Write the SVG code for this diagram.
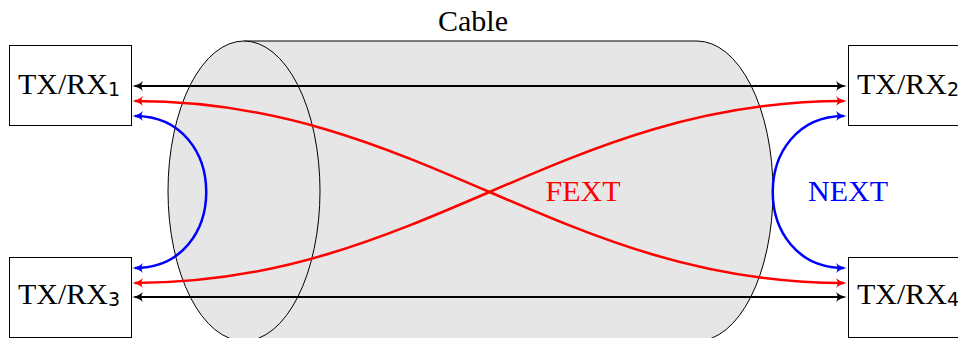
<svg xmlns="http://www.w3.org/2000/svg" width="958" height="338" viewBox="0 0 958 338">
<defs>
<style>
.box{fill:#fff;stroke:#000;stroke-width:1}
.lbl{font-family:"Liberation Serif","DejaVu Serif",serif;font-size:30px}
.sub{font-family:"DejaVu Sans","Liberation Sans",sans-serif;font-size:19px}
.cyl{fill:#e6e6e6;stroke:#000;stroke-width:1}
.blk{fill:none;stroke:#000;stroke-width:2.2}
.red{fill:none;stroke:#f00;stroke-width:2.5}
.blu{fill:none;stroke:#00f;stroke-width:2.5}
</style>
<marker id="ak" markerUnits="userSpaceOnUse" markerWidth="14" markerHeight="12" viewBox="0 -6 12 12" refX="8" refY="0" orient="auto-start-reverse"><path d="M0,-5 Q4,-1 11,0 Q4,1 0,5 Q3,0 0,-5Z" fill="#000"/></marker>
<marker id="ar" markerUnits="userSpaceOnUse" markerWidth="14" markerHeight="12" viewBox="0 -6 12 12" refX="8" refY="0" orient="auto-start-reverse"><path d="M0,-5 Q4,-1 11,0 Q4,1 0,5 Q3,0 0,-5Z" fill="#f00"/></marker>
<marker id="ab" markerUnits="userSpaceOnUse" markerWidth="14" markerHeight="12" viewBox="0 -6 12 12" refX="8" refY="0" orient="auto-start-reverse"><path d="M0,-5 Q4,-1 11,0 Q4,1 0,5 Q3,0 0,-5Z" fill="#00f"/></marker>
</defs>
<rect width="958" height="338" fill="#fff"/>
<g id="cable">
<path class="cyl" d="M244,41 L697,41 A76,150 0 0 1 697,341 L244,341 Z"/>
<ellipse class="cyl" cx="244" cy="191" rx="76" ry="150"/>
<text class="lbl" x="473" y="31" text-anchor="middle">Cable</text>
</g>
<g id="trx1"><rect class="box" x="9.5" y="45.5" width="122" height="80"/><text class="lbl" x="18" y="94">TX/RX<tspan class="sub" dy="2">1</tspan></text></g>
<g id="trx2"><rect class="box" x="848.5" y="45.5" width="122" height="80"/><text class="lbl" x="857" y="94">TX/RX<tspan class="sub" dy="2">2</tspan></text></g>
<g id="trx3"><rect class="box" x="9.5" y="257.5" width="122" height="80"/><text class="lbl" x="18" y="304">TX/RX<tspan class="sub" dy="2">3</tspan></text></g>
<g id="trx4"><rect class="box" x="848.5" y="257.5" width="122" height="80"/><text class="lbl" x="857" y="304">TX/RX<tspan class="sub" dy="2">4</tspan></text></g>
<g id="connectors">
<path class="blk" d="M135,86 L844,86" marker-start="url(#ak)" marker-end="url(#ak)"/>
<path class="blk" d="M135,297 L844,297" marker-start="url(#ak)" marker-end="url(#ak)"/>
<path class="red" d="M135,101 C421,101 558,283 844,283" marker-start="url(#ar)" marker-end="url(#ar)"/>
<path class="red" d="M135,283 C421,283 558,101 844,101" marker-start="url(#ar)" marker-end="url(#ar)"/>
<path class="blu" d="M135,116 C230,116 230,268 135,268" marker-start="url(#ab)" marker-end="url(#ab)"/>
<path class="blu" d="M844,116 C749,116 749,268 844,268" marker-start="url(#ab)" marker-end="url(#ab)"/>
</g>
<text class="lbl" x="583" y="201" text-anchor="middle" fill="#f00">FEXT</text>
<text class="lbl" x="848" y="201" text-anchor="middle" fill="#00f">NEXT</text>
</svg>
